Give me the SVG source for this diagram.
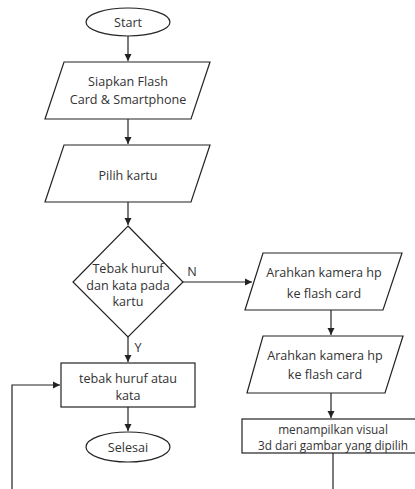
<svg xmlns="http://www.w3.org/2000/svg" width="415" height="489" viewBox="0 0 415 489">
<defs>
<marker id="ah" markerWidth="8" markerHeight="8" refX="7" refY="4" orient="auto" markerUnits="userSpaceOnUse">
<path d="M0,0.5 L7,4 L0,7.5 Z" fill="#222"/>
</marker>
</defs>
<style>
.s{fill:#fff;stroke:#222;stroke-width:1.2}
.c{fill:none;stroke:#222;stroke-width:1.2}
text{font-family:"Open Sans","Noto Sans","DejaVu Sans",sans-serif;font-size:12.6px;fill:#333;text-anchor:middle;dominant-baseline:central}
text.sm{font-size:11.8px}
</style>
<rect width="415" height="489" fill="#fff"/>
<g id="connectors">
<path class="c" d="M128,36 V61" marker-end="url(#ah)"/>
<path class="c" d="M128,119 V144" marker-end="url(#ah)"/>
<path class="c" d="M128,202 V225" marker-end="url(#ah)"/>
<path class="c" d="M183,282 H252" marker-end="url(#ah)"/>
<path class="c" d="M128,337 V362" marker-end="url(#ah)"/>
<path class="c" d="M128,407 V431" marker-end="url(#ah)"/>
<path class="c" d="M331,310 V335" marker-end="url(#ah)"/>
<path class="c" d="M331,393 V418" marker-end="url(#ah)"/>
<path class="c" d="M333,453 V489"/>
<path class="c" d="M12,489 V385 H60" marker-end="url(#ah)"/>
<text x="192" y="271">N</text>
<text x="138" y="347">Y</text>
</g>
<g id="start">
<ellipse class="s" cx="128" cy="22" rx="42" ry="14"/>
<text x="128" y="22">Start</text>
</g>
<g id="siapkan">
<polygon class="s" points="64,62 210,62 191,119 45,119"/>
<text x="128" y="81">Siapkan Flash</text>
<text x="128" y="99">Card &amp; Smartphone</text>
</g>
<g id="pilih">
<polygon class="s" points="64,145 210,145 191,202 45,202"/>
<text x="128" y="175">Pilih kartu</text>
</g>
<g id="decision">
<polygon class="s" points="128,226 183,282 128,337 73,282"/>
<text x="128" y="268">Tebak huruf</text>
<text x="128" y="285">dan kata pada</text>
<text x="128" y="301">kartu</text>
</g>
<g id="tebak">
<rect class="s" x="61" y="363" width="134" height="44"/>
<text x="128" y="378">tebak huruf atau</text>
<text x="128" y="395">kata</text>
</g>
<g id="selesai">
<ellipse class="s" cx="128" cy="447" rx="42" ry="15"/>
<text x="128" y="447">Selesai</text>
</g>
<g id="arahkan1">
<polygon class="s" points="263,253 402,253 383,310 245,310"/>
<text x="324" y="272">Arahkan kamera hp</text>
<text x="324" y="293">ke flash card</text>
</g>
<g id="arahkan2">
<polygon class="s" points="263,336 403,336 385,393 247,393"/>
<text x="325" y="355">Arahkan kamera hp</text>
<text x="325" y="374">ke flash card</text>
</g>
<g id="menampilkan">
<rect class="s" x="242" y="419" width="190" height="34"/>
<text class="sm" x="333" y="429">menampilkan visual</text>
<text class="sm" x="333" y="445">3d dari gambar yang dipilih</text>
</g>
</svg>
